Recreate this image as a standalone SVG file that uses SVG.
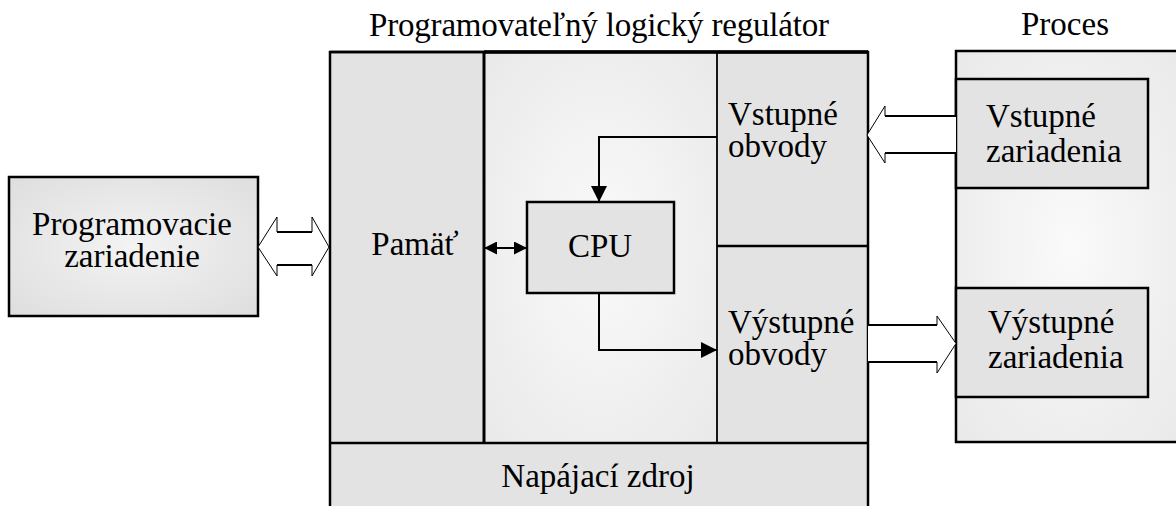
<svg xmlns="http://www.w3.org/2000/svg" width="1176" height="506" viewBox="0 0 1176 506">
<defs>
<radialGradient id="gLight" cx="0.5" cy="0.5" r="0.7">
<stop offset="0" stop-color="#fafafa"/>
<stop offset="1" stop-color="#e9e9e9"/>
</radialGradient>
<radialGradient id="gBox" cx="0.5" cy="0.5" r="0.7">
<stop offset="0" stop-color="#f3f3f3"/>
<stop offset="1" stop-color="#dedede"/>
</radialGradient>
<marker id="ah" viewBox="0 0 16 16" refX="16" refY="8" markerWidth="16" markerHeight="16" markerUnits="userSpaceOnUse" orient="auto-start-reverse">
<path d="M0,0 L16,8 L0,16 Z" fill="#000"/>
</marker>
<marker id="ahs" viewBox="0 0 13 13" refX="13" refY="6.5" markerWidth="13" markerHeight="13" markerUnits="userSpaceOnUse" orient="auto-start-reverse">
<path d="M0,0 L13,6.5 L0,13 Z" fill="#000"/>
</marker>
</defs>
<style>
text{font-family:'Liberation Serif','Times New Roman',serif;font-size:33px;fill:#000}
.panel{fill:#e3e3e3;stroke:#000;stroke-width:2.5}
.line{stroke:#000;fill:none}
.blk{fill:#fff;stroke:#000;stroke-width:1}
.shaft{stroke:#000;stroke-width:2;fill:none}
</style>
<rect width="1176" height="506" fill="#fff"/>

<text x="369" y="36" textLength="460">Programovateľný logický regulátor</text>
<text x="1021" y="35">Proces</text>

<g id="prog-dev">
<rect x="9" y="177" width="249" height="139" fill="url(#gBox)" stroke="#000" stroke-width="2.5"/>
<text text-anchor="middle"><tspan x="132" y="235">Programovacie</tspan><tspan x="132" dy="32">zariadenie</tspan></text>
</g>

<g id="plc">
<rect x="330" y="52" width="538" height="460" fill="#e3e3e3" stroke="#000" stroke-width="2.5"/>
<rect x="484" y="52" width="233" height="391" fill="url(#gLight)"/>
<line class="line" x1="330" y1="52" x2="868" y2="52" stroke-width="2.5"/>
<line class="line" x1="484" y1="52" x2="868" y2="52" stroke-width="3.5"/>
<line class="line" x1="484" y1="52" x2="484" y2="443" stroke-width="3"/>
<line class="line" x1="717" y1="52" x2="717" y2="443" stroke-width="1.8"/>
<line class="line" x1="717" y1="246" x2="868" y2="246" stroke-width="2.5"/>
<line class="line" x1="330" y1="443" x2="868" y2="443" stroke-width="2.5"/>
</g>
<g id="memory"><text x="415" y="255" text-anchor="middle">Pamäť</text></g>
<g id="input-circuits"><text><tspan x="728" y="125">Vstupné</tspan><tspan x="728" dy="32">obvody</tspan></text></g>
<g id="output-circuits"><text><tspan x="728" y="333">Výstupné</tspan><tspan x="728" dy="32">obvody</tspan></text></g>
<g id="power"><text x="598" y="487" text-anchor="middle">Napájací zdroj</text></g>
<g id="cpu">
<rect x="527" y="202" width="147" height="91" class="panel"/>
<text x="600" y="257" text-anchor="middle">CPU</text>
</g>

<g id="process">
<rect x="956" y="51" width="230" height="391" fill="url(#gLight)" stroke="#000" stroke-width="2.5"/>
</g>
<g id="input-devices">
<rect x="956" y="79" width="192" height="109" class="panel"/>
<text><tspan x="986" y="127">Vstupné</tspan><tspan x="986" dy="35">zariadenia</tspan></text>
</g>
<g id="output-devices">
<rect x="956" y="288" width="192" height="109" class="panel"/>
<text><tspan x="988" y="333">Výstupné</tspan><tspan x="988" dy="35">zariadenia</tspan></text>
</g>

<g id="connectors">
<path class="line" stroke-width="2" d="M717,137 H599 V202" marker-end="url(#ah)"/>
<path class="line" stroke-width="2" d="M599,293 V350 H717" marker-end="url(#ah)"/>
<path class="line" stroke-width="2" d="M484,248 H527" marker-start="url(#ahs)" marker-end="url(#ahs)"/>

<path class="blk" d="M258,247 L277,217 V232 H312 V217 L329,247 L312,276 V265 H277 V276 Z"/>
<line class="shaft" x1="277" y1="232" x2="312" y2="232"/>
<line class="shaft" x1="277" y1="265" x2="312" y2="265"/>

<path class="blk" d="M956,116 H885 V106 L867,135 L885,163 V153 H956"/>
<line class="shaft" x1="885" y1="116" x2="956" y2="116"/>
<line class="shaft" x1="885" y1="153" x2="956" y2="153"/>

<path class="blk" d="M868,325 H937 V316 L956,343.5 L937,373 V362 H868"/>
<line class="shaft" x1="868" y1="325" x2="937" y2="325"/>
<line class="shaft" x1="868" y1="362" x2="937" y2="362"/>
</g>
</svg>
